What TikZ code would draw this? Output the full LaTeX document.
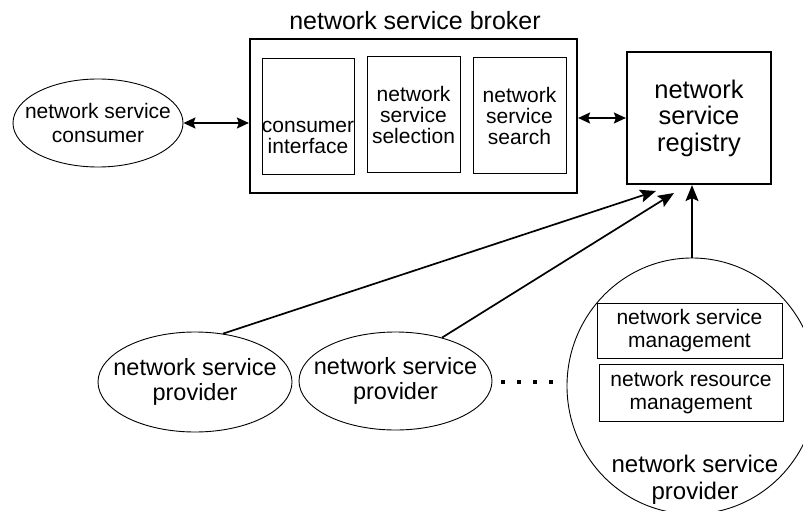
\documentclass[tikz,border=0pt]{standalone}
\usepackage{fontspec}
\setmainfont{Liberation Sans}
\usetikzlibrary{shapes.geometric,arrows.meta}

\begin{document}
\begin{tikzpicture}[x=1pt,y=-1pt,
   bigbox/.style={draw, line width=2.2pt, inner sep=0pt, align=center},
   smallbox/.style={draw, line width=1pt, inner sep=0pt, align=center},
   oval/.style={draw, ellipse, line width=0.9pt, inner sep=0pt},
   txt/.style={inner sep=0pt, align=center},
   flow/.style={line width=1.7pt, -{Stealth[length=16pt,width=13pt,inset=3pt]}},
   both/.style={line width=1.7pt, {Stealth[length=12pt,width=11pt,inset=2pt]}-{Stealth[length=12pt,width=11pt,inset=2pt]}},
]
\useasboundingbox (0,0) rectangle (803,511);

% broker and its parts
\node[txt, font=\fontsize{25}{25}\selectfont] (title) at (415,21) {network service broker};
\node[bigbox, minimum width=327pt, minimum height=154pt] (broker) at (413.5,116) {};
\node[smallbox, minimum width=92pt, minimum height=115pt] (iface) at (308,116.5) {};
\node[txt, font=\fontsize{21}{21}\selectfont] (ifacetxt) at (308,137) {consumer\\interface};
\node[smallbox, minimum width=93pt, minimum height=115pt, font=\fontsize{21}{21}\selectfont] (select) at (413.5,114.5) {network\\service\\selection};
\node[smallbox, minimum width=93pt, minimum height=115pt, font=\fontsize{21}{21}\selectfont] (search) at (519.5,115.5) {network\\service\\search};

% registry
\node[bigbox, minimum width=144pt, minimum height=132pt, font=\fontsize{25.5}{26.5}\selectfont] (reg) at (699,118) {network\\service\\registry};

% consumer
\node[oval, minimum width=170pt, minimum height=88pt,
   label={[txt, font=\fontsize{21}{23.5}\selectfont]center:network service\\consumer}] (cons) at (98,123) {};

% providers
\node[oval, minimum width=194pt, minimum height=100pt,
   label={[txt, font=\fontsize{23.5}{25.5}\selectfont]center:network service\\provider}] (prov1) at (195,382) {};
\node[oval, minimum width=193pt, minimum height=98pt,
   label={[txt, font=\fontsize{23.5}{25.5}\selectfont]center:network service\\provider}] (prov2) at (395.5,381) {};
\node[oval, minimum width=250pt, minimum height=256pt] (prov3) at (692,386) {};
\node[smallbox, minimum width=185pt, minimum height=55pt, font=\fontsize{21}{22.5}\selectfont] (svcmgmt) at (689.5,330.5) {network service\\management};
\node[smallbox, minimum width=184pt, minimum height=57pt, font=\fontsize{21}{22.5}\selectfont] (resmgmt) at (691,392.5) {network resource\\management};
\node[txt, font=\fontsize{24}{27}\selectfont] (prov3txt) at (695,480) {network service\\provider};

% dots between the providers
\foreach \x in {503,519,535,551}
   \fill (\x-2.3,379.7) rectangle (\x+2.3,384.3);

% connectors
\coordinate (tip1) at (656,191);
\coordinate (tip2) at (674,193);
\draw[both] (cons.east) -- (cons.east -| broker.west);
\draw[both] (broker.east |- reg.west) -- (reg.west);
\draw[flow] (prov1.60) -- (tip1);
\draw[flow] (prov2.43) -- (tip2);
\draw[flow] (prov3.north) -- (prov3.north |- reg.south);
\end{tikzpicture}
\end{document}
